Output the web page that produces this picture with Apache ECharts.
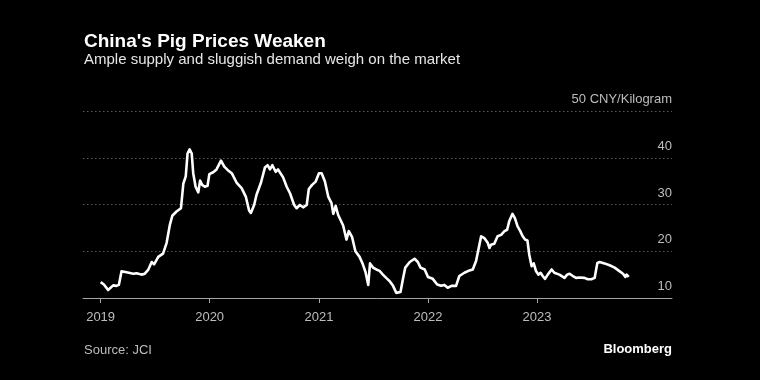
<!DOCTYPE html>
<html>
<head>
<meta charset="utf-8">
<script src="https://cdn.jsdelivr.net/npm/echarts@6/dist/echarts.min.js"></script>
<style>
  html, body { margin: 0; padding: 0; background: #000; }
  #chart { width: 760px; height: 380px; }
</style>
</head>
<body>
<div id="chart"></div>
<script>
// ---- Data (CNY/kg) ----
const dates = [
  '2019-01-01','2019-01-12','2019-01-26','2019-02-12','2019-02-23','2019-03-03','2019-03-12','2019-03-29','2019-04-20','2019-05-02',
  '2019-05-18','2019-05-29','2019-06-09','2019-06-21','2019-06-29','2019-07-13','2019-07-29','2019-08-10','2019-08-21','2019-08-29',
  '2019-09-12','2019-09-27','2019-10-05','2019-10-13','2019-10-19','2019-10-26','2019-11-02','2019-11-07','2019-11-15','2019-11-24',
  '2019-11-30','2019-12-07','2019-12-16','2019-12-25','2019-12-31','2020-01-13','2020-01-24','2020-02-08','2020-02-19','2020-03-01',
  '2020-03-15','2020-03-31','2020-04-17','2020-05-01','2020-05-12','2020-05-18','2020-05-29','2020-06-06','2020-06-21','2020-07-04',
  '2020-07-13','2020-07-21','2020-07-29','2020-08-09','2020-08-17','2020-08-23','2020-09-03','2020-09-15','2020-09-26','2020-10-10',
  '2020-10-18','2020-10-29','2020-11-09','2020-11-21','2020-11-28','2020-12-09','2020-12-21','2021-01-01','2021-01-10','2021-01-21',
  '2021-02-01','2021-02-12','2021-02-18','2021-02-26','2021-03-06','2021-03-23','2021-04-03','2021-04-11','2021-04-22','2021-05-03',
  '2021-05-17','2021-05-28','2021-06-06','2021-06-15','2021-06-21','2021-07-01','2021-07-12','2021-07-23','2021-08-03','2021-08-14',
  '2021-08-26','2021-09-06','2021-09-17','2021-09-22','2021-10-01','2021-10-09','2021-10-17','2021-11-01','2021-11-17','2021-11-28',
  '2021-12-07','2021-12-21','2022-01-01','2022-01-17','2022-02-01','2022-02-14','2022-02-25','2022-03-08','2022-03-21','2022-04-05',
  '2022-04-16','2022-05-03','2022-05-20','2022-05-31','2022-06-11','2022-06-19','2022-06-28','2022-07-09','2022-07-20','2022-07-26',
  '2022-07-31','2022-08-11','2022-08-22','2022-09-03','2022-09-14','2022-09-23','2022-09-30','2022-10-11','2022-10-19','2022-10-28',
  '2022-11-06','2022-11-14','2022-11-22','2022-11-30','2022-12-06','2022-12-14','2022-12-21','2022-12-29','2023-01-06','2023-01-13',
  '2023-01-20','2023-01-28','2023-02-06','2023-02-19','2023-02-28','2023-03-17','2023-04-03','2023-04-12','2023-04-20','2023-05-01',
  '2023-05-12','2023-05-23','2023-06-09','2023-06-20','2023-07-02','2023-07-13','2023-07-22','2023-07-30','2023-08-15','2023-09-01',
  '2023-09-18','2023-10-05','2023-10-16','2023-10-24','2023-10-28','2023-11-04'
];
const prices = [
  13.4,12.9,11.7,12.7,12.6,12.8,15.7,15.5,15.2,15.3,
  15.0,15.2,16.0,17.7,17.2,18.8,19.5,21.8,25.7,27.6,
  28.5,29.2,34.5,36.0,40.9,41.8,40.9,36.7,33.8,32.6,
  35.1,34.2,33.8,34.0,36.5,36.9,37.5,39.4,38.1,37.4,
  36.7,34.7,33.5,31.7,28.7,28.2,29.9,32.1,34.7,37.9,
  38.4,37.5,38.4,37.0,37.5,37.2,35.8,33.8,32.4,29.9,
  29.2,29.9,29.4,29.9,33.3,34.2,34.9,36.7,36.7,34.9,
  31.7,30.3,28.0,29.7,27.8,25.5,22.5,24.3,23.0,20.0,
  18.8,17.2,15.5,12.8,17.4,16.5,16.1,15.8,15.0,14.3,
  13.6,12.6,11.1,10.8,11.3,14.0,16.5,17.7,18.4,17.7,
  16.5,16.1,14.5,14.1,12.9,12.6,12.8,12.2,12.6,12.6,
  14.7,15.4,15.9,16.1,17.9,20.4,23.2,22.8,21.8,20.7,
  21.4,21.6,23.2,23.5,24.3,24.6,26.4,28.0,27.1,25.3,
  24.3,23.2,22.5,22.3,19.3,16.8,17.4,15.7,15.0,15.4,
  14.7,14.1,15.0,16.1,15.4,15.0,14.3,15.0,15.2,14.7,
  14.3,14.4,14.3,14.0,14.0,14.3,17.5,17.7,17.4,17.0,
  16.5,15.7,15.2,14.5,15.0,14.5
];
const yearTicks = ['2019', '2020', '2021', '2022', '2023'];
const yTicks = [10, 20, 30, 40, 50];
const yUnit = 'CNY/Kilogram';
const xRange = ['2018-11-03', '2024-03-28'];

// ---- helpers ----
function ts(s) {
  const p = s.split('-').map(Number);
  return Date.UTC(p[0], (p[1] || 1) - 1, p[2] || 1);
}
const seriesData = dates.map((d, i) => [ts(d), prices[i]]);
const yearTs = yearTicks.map(y => ts(y + '-01-01'));

const FONT = '"Liberation Sans", Arial, sans-serif';
const chart = echarts.init(document.getElementById('chart'), null, { renderer: 'canvas' });

chart.setOption({
  backgroundColor: '#000000',
  animation: false,
  title: [
    {
      text: "China's Pig Prices Weaken",
      left: 84, top: 32, padding: 0,
      textStyle: { color: '#ffffff', fontFamily: FONT, fontSize: 19, fontWeight: 'bold', lineHeight: 19 }
    },
    {
      text: 'Ample supply and sluggish demand weigh on the market',
      left: 84, top: 52, padding: 0,
      textStyle: { color: '#e6e6e6', fontFamily: FONT, fontSize: 15, fontWeight: 'normal', lineHeight: 15 }
    },
    {
      text: 'Source: JCI',
      left: 84, top: 344, padding: 0,
      textStyle: { color: '#bdbdbd', fontFamily: FONT, fontSize: 13, fontWeight: 'normal', lineHeight: 13 }
    },
    {
      text: 'Bloomberg',
      right: 88, top: 343, padding: 0,
      textStyle: { color: '#ffffff', fontFamily: FONT, fontSize: 13, fontWeight: 'bold', lineHeight: 13 }
    }
  ],
  grid: { left: 83, right: 88, top: 111, bottom: 82, containLabel: false },
  xAxis: {
    type: 'value',
    min: ts(xRange[0]),
    max: ts(xRange[1]),
    axisLine: { show: true, onZero: false, lineStyle: { color: '#a6a6a6', width: 1 } },
    axisTick: { show: true, length: 5, lineStyle: { color: '#a6a6a6' }, customValues: yearTs },
    axisLabel: {
      customValues: yearTs,
      color: '#bdbdbd', fontFamily: FONT, fontSize: 13, margin: 13,
      formatter: v => String(new Date(v).getUTCFullYear())
    },
    splitLine: { show: false }
  },
  yAxis: {
    type: 'value',
    position: 'right',
    min: yTicks[0], max: yTicks[yTicks.length - 1], interval: 10,
    axisLine: { show: false },
    axisTick: { show: false },
    axisLabel: {
      inside: true, margin: 0,
      color: '#bdbdbd', fontFamily: FONT, fontSize: 13,
      verticalAlign: 'bottom', padding: [0, 0, 5, 0],
      formatter: v => v === yTicks[yTicks.length - 1] ? v + ' ' + yUnit : String(v)
    },
    splitLine: { show: true, lineStyle: { color: '#5a5a5a', width: 1, type: [1.5, 2.5] } }
  },
  series: [{
    type: 'line',
    data: seriesData,
    showSymbol: false,
    symbol: 'none',
    lineStyle: { color: '#ffffff', width: 2.6, join: 'round' },
    z: 5
  }]
});
</script>
</body>
</html>
